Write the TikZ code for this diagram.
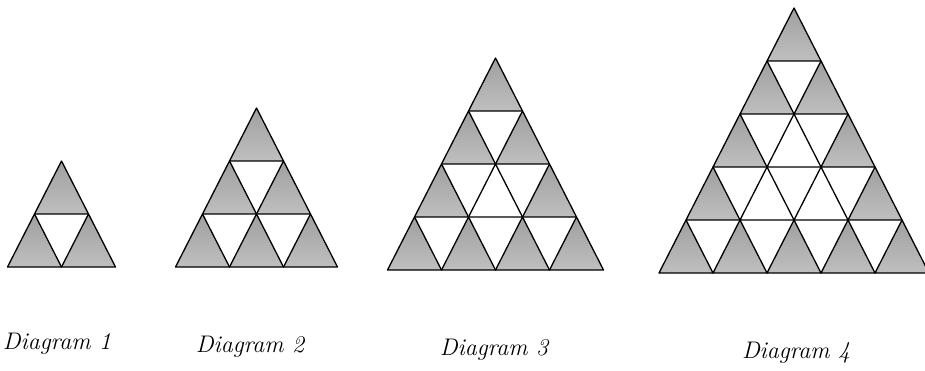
\documentclass[tikz,border=0pt]{standalone}
\usepackage{tikz}

\tikzset{
  greytri/.style={draw=black,line width=1.3pt,line join=round,top color=gray!75,bottom color=gray!50},
  whitetri/.style={draw=black,line width=1.3pt,line join=round,fill=white},
  diaglabel/.style={font=\fontsize{24}{28}\selectfont\itshape,inner sep=0pt}
}

\begin{document}
\begin{tikzpicture}[x=1pt,y=-1pt]
\useasboundingbox (0,0) rectangle (925,371);

% n rows, centre x, base y
\foreach \n/\cx/\yb in {2/61.5/267, 3/256.5/267, 4/495.5/270, 5/794/273}{
  \foreach \r in {1,...,\n}{
    \foreach \k in {1,...,\r}{
      \pgfmathsetmacro\tx{\cx+(\k-1)*54-(\r-1)*27}
      \pgfmathsetmacro\ty{\yb-(\n-\r+1)*53}
      \pgfmathtruncatemacro\rim{(\k==1)||(\k==\r)||(\r==\n)}
      \ifnum\rim=1
        \draw[greytri] (\tx,\ty) -- ++(-27,53) -- ++(54,0) -- cycle;
      \else
        \draw[whitetri] (\tx,\ty) -- ++(-27,53) -- ++(54,0) -- cycle;
      \fi
    }
  }
}

\foreach \i/\x/\y in {1/57/344, 2/250/347, 3/494/350, 4/796/353}
  \node[diaglabel] (label\i) at (\x,\y) {Diagram \i};
\end{tikzpicture}
\end{document}
